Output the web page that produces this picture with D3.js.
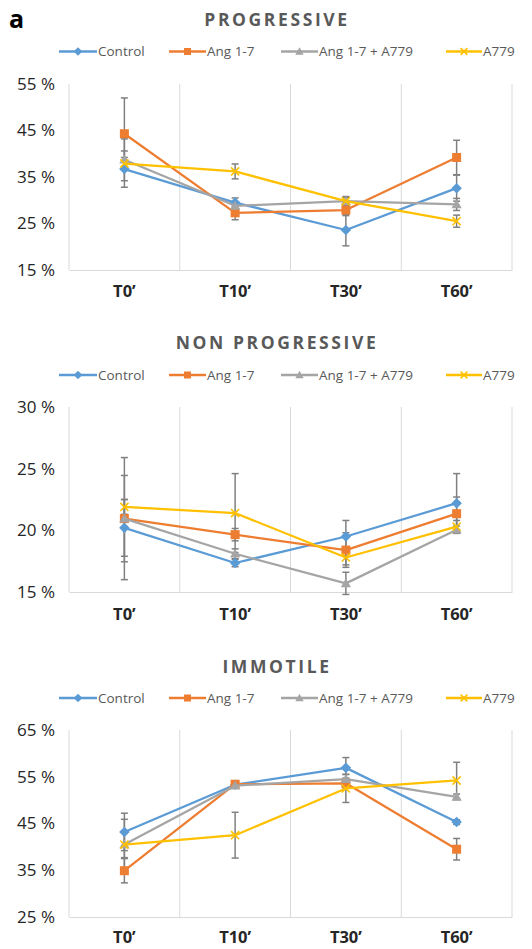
<!DOCTYPE html>
<html><head><meta charset="utf-8">
<script src="https://cdn.jsdelivr.net/npm/d3@7"></script>
<style>
html,body{margin:0;padding:0;background:#fff;}
svg{display:block;}
</style></head>
<body>
<svg id="chart" width="532" height="949"></svg>
<script>
const categories = ["T0’", "T10’", "T30’", "T60’"];
const seriesNames = ["Control", "Ang 1-7", "Ang 1-7 + A779", "A779"];
const seriesColors = ["#5b9bd5", "#ed7d31", "#a5a5a5", "#ffc000"];
const seriesMarkers = ["diamond", "square", "triangle", "cross"];

const progressiveTitle = "PROGRESSIVE";
const progressiveTicks = [15, 25, 35, 45, 55];
const progressiveControl = [36.7, 29.5, 23.6, 32.6];
const progressiveAng = [44.3, 27.3, 27.9, 39.2];
const progressiveAngA779 = [38.7, 28.8, 29.8, 29.1];
const progressiveA779 = [37.9, 36.2, 29.8, 25.5];
const progressiveControlErr = [3.9, 1.0, 3.4, 2.8];
const progressiveAngErr = [7.7, 1.5, 1.2, 3.7];
const progressiveAngA779Err = [4.5, 0.8, 1.0, 1.3];
const progressiveA779Err = [1.3, 1.6, 0.8, 1.3];

const nonProgressiveTitle = "NON PROGRESSIVE";
const nonProgressiveTicks = [15, 20, 25, 30];
const nonProgressiveControl = [20.2, 17.35, 19.5, 22.2];
const nonProgressiveAng = [20.95, 19.65, 18.4, 21.35];
const nonProgressiveAngA779 = [20.95, 18.1, 15.7, 20.05];
const nonProgressiveA779 = [21.9, 21.4, 17.8, 20.3];
const nonProgressiveControlErr = [2.3, 0.3, 1.3, 2.4];
const nonProgressiveAngErr = [4.95, 0.5, 1.4, 1.35];
const nonProgressiveAngA779Err = [3.5, 0.4, 0.9, 0.3];
const nonProgressiveA779Err = [0.6, 3.2, 0.6, 0.5];

const immotileTitle = "IMMOTILE";
const immotileTicks = [25, 35, 45, 55, 65];
const immotileControl = [43.2, 53.3, 56.9, 45.3];
const immotileAng = [34.9, 53.4, 53.6, 39.5];
const immotileAngA779 = [40.5, 53.1, 54.5, 50.7];
const immotileA779 = [40.5, 42.5, 52.5, 54.2];
const immotileControlErr = [4.0, 0.5, 2.2, 0.5];
const immotileAngErr = [2.6, 0.5, 1.0, 2.3];
const immotileAngA779Err = [2.8, 0.5, 1.0, 0.6];
const immotileA779Err = [5.4, 4.9, 3.0, 3.9];

const panels = [
  {title: progressiveTitle, ticks: progressiveTicks,
   values: [progressiveControl, progressiveAng, progressiveAngA779, progressiveA779],
   errs: [progressiveControlErr, progressiveAngErr, progressiveAngA779Err, progressiveA779Err],
   titleY: 20, legendY: 51.5, top: 84, bottom: 270, xLabelY: 291},
  {title: nonProgressiveTitle, ticks: nonProgressiveTicks,
   values: [nonProgressiveControl, nonProgressiveAng, nonProgressiveAngA779, nonProgressiveA779],
   errs: [nonProgressiveControlErr, nonProgressiveAngErr, nonProgressiveAngA779Err, nonProgressiveA779Err],
   titleY: 343, legendY: 375, top: 407, bottom: 592, xLabelY: 614},
  {title: immotileTitle, ticks: immotileTicks,
   values: [immotileControl, immotileAng, immotileAngA779, immotileA779],
   errs: [immotileControlErr, immotileAngErr, immotileAngA779Err, immotileA779Err],
   titleY: 667, legendY: 698, top: 730, bottom: 917, xLabelY: 937}
];

const svg = d3.select("#chart");
const left = 69, right = 512;
const font = "'Open Sans', 'Noto Sans', sans-serif";

svg.append("text").attr("x", 9).attr("y", 28)
  .attr("font-family", "'Open Sans', sans-serif").attr("font-weight", 700)
  .attr("font-size", 25).attr("fill", "#000").text("a");

const legendItems = [
  {lineX: 59, textX: 97},
  {lineX: 169, textX: 206},
  {lineX: 281, textX: 318},
  {lineX: 446, textX: 482}
];

function marker(g, type, color, cx, cy, s) {
  if (type === "diamond") {
    const r = s * 0.62;
    g.append("path").attr("d", `M${cx},${cy - r}L${cx + r},${cy}L${cx},${cy + r}L${cx - r},${cy}Z`).attr("fill", color);
  } else if (type === "square") {
    g.append("rect").attr("x", cx - s / 2).attr("y", cy - s / 2).attr("width", s).attr("height", s).attr("fill", color);
  } else if (type === "triangle") {
    const r = s * 0.6;
    g.append("path").attr("d", `M${cx},${cy - r}L${cx + r},${cy + r * 0.75}L${cx - r},${cy + r * 0.75}Z`).attr("fill", color);
  } else {
    const r = s * 0.48;
    g.append("path").attr("d", `M${cx - r},${cy - r}L${cx + r},${cy + r}M${cx - r},${cy + r}L${cx + r},${cy - r}`)
      .attr("stroke", color).attr("stroke-width", 1.6).attr("fill", "none");
  }
}

panels.forEach(p => {
  const x = d3.scaleBand().domain(categories).range([left, right]).padding(0);
  const y = d3.scaleLinear().domain([p.ticks[0], p.ticks[p.ticks.length - 1]]).range([p.bottom, p.top]);
  const g = svg.append("g");

  // title
  g.append("text").attr("x", 277).attr("y", p.titleY).attr("dy", "0.36em")
    .attr("text-anchor", "middle").attr("font-family", font).attr("font-weight", 700)
    .attr("font-size", 17.5).attr("letter-spacing", 2.6).attr("fill", "#595959").text(p.title);

  // legend
  seriesNames.forEach((name, i) => {
    const it = legendItems[i];
    const lg = g.append("g");
    lg.append("line").attr("x1", it.lineX).attr("x2", it.textX).attr("y1", p.legendY).attr("y2", p.legendY)
      .attr("stroke", seriesColors[i]).attr("stroke-width", 2.5);
    marker(lg, seriesMarkers[i], seriesColors[i], (it.lineX + it.textX) / 2, p.legendY, 7);
    lg.append("text").attr("x", it.textX + 1).attr("y", p.legendY).attr("dy", "0.35em")
      .attr("font-family", font).attr("font-size", 13.5).attr("fill", "#595959").text(name);
  });

  // vertical gridlines
  const bounds = categories.map(c => x(c)).concat([right]);
  g.selectAll("line.grid").data(bounds).enter().append("line")
    .attr("x1", d => d).attr("x2", d => d).attr("y1", p.top).attr("y2", p.bottom)
    .attr("stroke", "#d9d9d9").attr("stroke-width", 1);

  // y axis
  const ya = g.append("g").attr("transform", `translate(${left - 14},0)`)
    .call(d3.axisLeft(y).tickValues(p.ticks).tickSize(0).tickPadding(0).tickFormat(d => d + " %"));
  ya.select(".domain").remove();
  ya.selectAll("text").attr("font-family", font).attr("font-size", 17).attr("fill", "#262626");

  // x axis
  const xa = g.append("g").attr("transform", `translate(0,${p.bottom})`)
    .call(d3.axisBottom(x).tickSize(0).tickPadding(0));
  xa.select(".domain").attr("stroke", "#d9d9d9").attr("stroke-width", 1);
  xa.selectAll("text").attr("font-family", font).attr("font-weight", 700).attr("font-size", 16.5)
    .attr("fill", "#262626").attr("y", p.xLabelY - p.bottom).attr("dy", "0.35em");

  const cx = c => x(c) + x.bandwidth() / 2;

  // error bars
  p.values.forEach((vals, si) => {
    vals.forEach((v, ci) => {
      const e = p.errs[si][ci];
      const xx = cx(categories[ci]);
      const eg = g.append("g").attr("stroke", "#808080").attr("stroke-width", 1.5);
      eg.append("line").attr("x1", xx).attr("x2", xx).attr("y1", y(v - e)).attr("y2", y(v + e));
      eg.append("line").attr("x1", xx - 3.5).attr("x2", xx + 3.5).attr("y1", y(v - e)).attr("y2", y(v - e));
      eg.append("line").attr("x1", xx - 3.5).attr("x2", xx + 3.5).attr("y1", y(v + e)).attr("y2", y(v + e));
    });
  });

  // lines and markers
  const line = d3.line().x((d, i) => cx(categories[i])).y(d => y(d));
  p.values.forEach((vals, si) => {
    g.append("path").datum(vals).attr("d", line).attr("fill", "none")
      .attr("stroke", seriesColors[si]).attr("stroke-width", 2.25).attr("stroke-linejoin", "round");
    vals.forEach((v, ci) => {
      const s = seriesMarkers[si] === "square" ? 9 : 8.5;
      marker(g, seriesMarkers[si], seriesColors[si], cx(categories[ci]), y(v), s);
    });
  });
});
</script>
</body></html>
